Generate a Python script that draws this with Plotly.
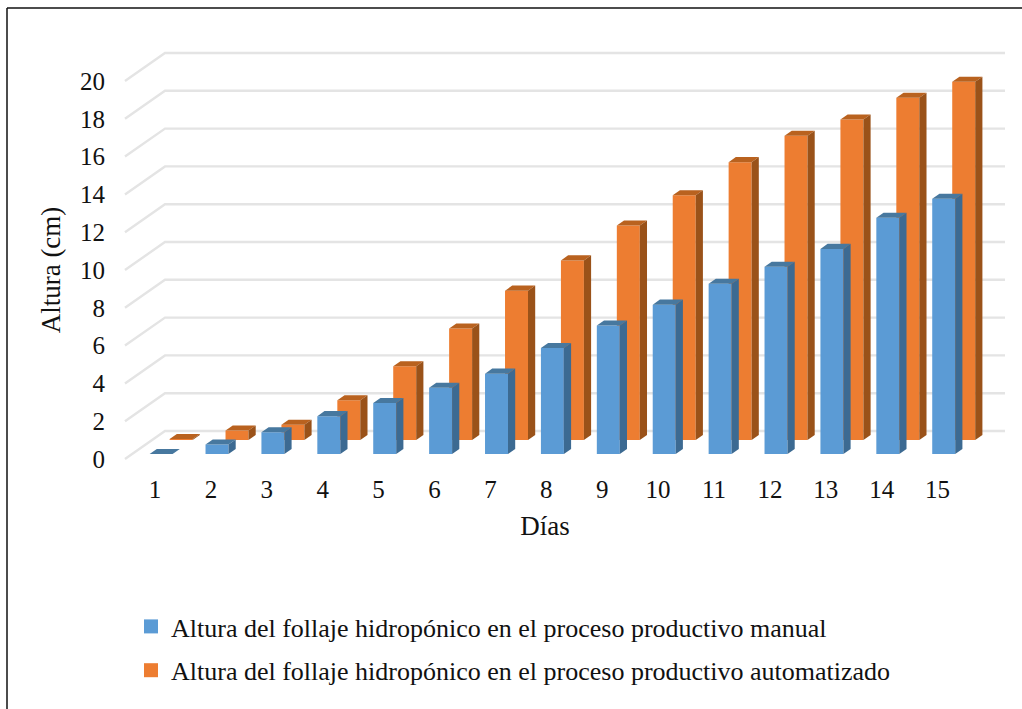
import plotly.graph_objects as go

# Chart data
days = list(range(1, 16))
manual = [0.0, 0.5, 1.15, 2.0, 2.7, 3.5, 4.25, 5.6, 6.8, 7.9, 9.0, 9.9, 10.85, 12.5, 13.5]
automated = [0.05, 0.5, 0.8, 2.1, 3.9, 5.9, 7.9, 9.5, 11.35, 12.95, 14.7, 16.1, 16.95, 18.1, 18.95]
y_ticks = list(range(0, 21, 2))

manual_name = "Altura del follaje hidropónico en el proceso productivo manual"
automated_name = "Altura del follaje hidropónico en el proceso productivo automatizado"

# Oblique projection of the floor depth onto the x (days) and y (cm) axes
DEPTH_X = 0.7156
DEPTH_Y = 1.4815
BAR_LEFT = -0.225
BAR_WIDTH = 0.411
BAR_DEPTH = 0.18
WALL_LEFT = 0.463
WALL_RIGHT = 15.49

FONT = "Liberation Serif"
TEXT = "#111111"
W, H = 1022, 709


def project(x, v, depth):
    return x + depth * DEPTH_X, v + depth * DEPTH_Y


def polygons(corners_for_bar, series):
    """Join one polygon per bar into a None-separated outline list."""
    xs, ys = [], []
    for day, value in zip(days, series):
        for x, v, d in corners_for_bar(day, value):
            px, py = project(x, v, d)
            xs.append(px)
            ys.append(py)
        xs.append(None)
        ys.append(None)
    return xs, ys


def bar_traces(series, name, depth, front, top, side):
    d0, d1 = depth, depth + BAR_DEPTH

    def left(day):
        return day + BAR_LEFT

    def right(day):
        return day + BAR_LEFT + BAR_WIDTH

    faces = {
        "front": (front, lambda day, v: [(left(day), 0, d0), (right(day), 0, d0), (right(day), v, d0), (left(day), v, d0)]),
        "top": (top, lambda day, v: [(left(day), v, d0), (right(day), v, d0), (right(day), v, d1), (left(day), v, d1)]),
        "side": (side, lambda day, v: [(right(day), 0, d0), (right(day), 0, d1), (right(day), v, d1), (right(day), v, d0)]),
    }
    traces = []
    for color, corners in faces.values():
        xs, ys = polygons(corners, series)
        traces.append(go.Scatter(
            x=xs, y=ys, mode="lines", fill="toself", fillcolor=color,
            line=dict(width=0, color=color), hoverinfo="skip",
            showlegend=False, name=name,
        ))
    return traces


fig = go.Figure()

# Gridlines: slanted along the left wall, then straight along the back wall
grid_x, grid_y = [], []
for tick in y_ticks:
    for x, d in ((WALL_LEFT, 0), (WALL_LEFT, 1), (WALL_RIGHT, 1)):
        px, py = project(x, tick, d)
        grid_x.append(px)
        grid_y.append(py)
    grid_x.append(None)
    grid_y.append(None)
fig.add_trace(go.Scatter(
    x=grid_x, y=grid_y, mode="lines", line=dict(color="#e4e4e4", width=2.4),
    hoverinfo="skip", showlegend=False,
))

# Rear row first so the front row overlaps it
fig.add_traces(bar_traces(automated, automated_name, 0.68, "#ED7D31", "#B9621F", "#9A5219"))
fig.add_traces(bar_traces(manual, manual_name, 0.18, "#5B9BD5", "#47789F", "#3C6A92"))

# Legend keys
for name, color in ((manual_name, "#5B9BD5"), (automated_name, "#ED7D31")):
    fig.add_trace(go.Scatter(
        x=[None], y=[None], mode="markers", name=name, legendgroup=name,
        marker=dict(symbol="square", size=14, color=color),
    ))

fig.update_layout(
    width=W, height=H, autosize=False,
    margin=dict(l=0, r=0, t=0, b=0),
    paper_bgcolor="white", plot_bgcolor="rgba(0,0,0,0)",
    font=dict(family=FONT, size=25, color=TEXT),
    xaxis=dict(
        domain=[80 / W, 1010 / W], range=[-0.3417, 16.295],
        anchor="free", position=1 - 472 / H,
        tickmode="array", tickvals=days, ticktext=[str(d) for d in days],
        showgrid=False, zeroline=False, showline=False, ticks="",
        title=dict(text="Días", standoff=14, font=dict(size=27)),
    ),
    yaxis=dict(
        domain=[1 - 500 / H, 1 - 40 / H], range=[-2.169, 22.169],
        anchor="free", position=105 / W,
        tickmode="array", tickvals=y_ticks,
        showgrid=False, zeroline=False, showline=False, ticks="",
        title=dict(text="Altura (cm)", standoff=10, font=dict(size=27)),
    ),
    legend=dict(
        x=131 / W, y=1 - 603 / H, xanchor="left", yanchor="top",
        traceorder="grouped", tracegroupgap=7, itemsizing="trace",
        font=dict(size=26), bgcolor="rgba(0,0,0,0)",
    ),
    shapes=[
        # Frame: top and left edges only
        dict(type="line", xref="paper", yref="paper", x0=7 / W, x1=1, y0=1 - 8 / H, y1=1 - 8 / H,
             line=dict(color="#111111", width=1.5)),
        dict(type="line", xref="paper", yref="paper", x0=7 / W, x1=7 / W, y0=0, y1=1 - 8 / H,
             line=dict(color="#111111", width=1.5)),
    ],
)

fig.write_html("out.html")
